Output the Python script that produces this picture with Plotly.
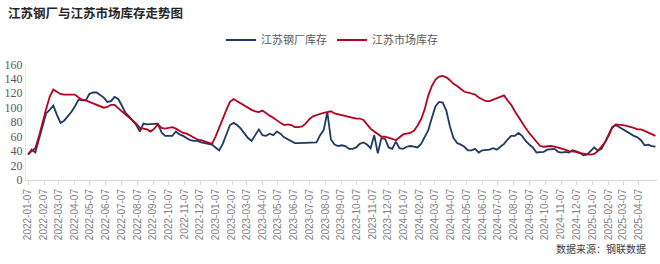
import pandas as pd
import plotly.graph_objects as go

start_date = "2022-01-07"
n_weeks = 175
dates = pd.date_range(start_date, periods=n_weeks, freq="7D")

series_names = ["江苏钢厂库存", "江苏市场库存"]

mill_stock = [
    35, 42, 38, 55, 75, 92, 97, 103, 90, 79,
    82, 88, 94, 102, 111, 110, 110, 119, 121, 121,
    118, 114, 108, 109, 115, 112, 103, 93, 88, 82,
    76, 67, 78, 77, 77, 77, 78, 66, 61, 61,
    61, 67, 63, 61, 58, 55, 54, 54, 52, 51,
    50, 49, 45, 41, 50, 63, 76, 79, 76, 71,
    64, 58, 54, 62, 70, 62, 61, 64, 62, 67,
    64, 59, 56, 53, 51, 51, 51, 52, 52, 52,
    52, 62, 69, 94, 56, 49, 47, 48, 47, 43,
    43, 45, 50, 52, 49, 44, 62, 37, 58, 57,
    45, 43, 53, 44, 43, 46, 47, 46, 45, 50,
    59, 69, 86, 102, 108, 107, 96, 74, 58, 51,
    49, 46, 41, 41, 43, 38, 41, 41, 42, 44,
    42, 46, 50, 56, 61, 61, 65, 61, 54, 49,
    45, 38, 38, 39, 42, 43, 43, 39, 38, 39,
    38, 41, 40, 38, 34, 35, 40, 45, 41, 43,
    52, 62, 73, 76, 73, 69, 66, 64, 61, 59,
    55, 48, 49, 47, 46,
]

market_stock = [
    36, 40, 44, 60, 80, 98, 115, 125, 122, 119,
    118, 118, 117, 118, 114, 111, 110, 108, 107, 104,
    102, 100, 101, 104, 104, 99, 95, 91, 87, 83,
    78, 72, 71, 70, 67, 71, 77, 72, 71, 72,
    73, 71, 68, 65, 64, 61, 58, 56, 55, 53,
    52, 50, 60, 73, 85, 97, 108, 112, 109, 106,
    103, 99, 97, 95, 94, 96, 92, 89, 86, 82,
    79, 76, 77, 76, 73, 73, 74, 78, 84, 88,
    90, 91, 93, 94, 95, 92, 91, 90, 88, 87,
    87, 85, 85, 83, 77, 71, 67, 63, 60, 60,
    59, 57, 55, 59, 63, 64, 65, 68, 75, 84,
    98, 117, 130, 139, 143, 144, 142, 138, 133, 130,
    126, 122, 121, 120, 118, 114, 111, 109, 109, 111,
    113, 116, 117, 110, 104, 95, 87, 80, 72, 65,
    59, 53, 47, 46, 47, 47, 46, 45, 44, 42,
    40, 40, 39, 37, 36, 35, 35, 36, 40, 46,
    52, 61, 72, 77, 77, 76, 75, 74, 72, 70,
    70, 68, 66, 63, 61,
]

tick_dates = pd.date_range("2022-01-01", "2025-04-01", freq="MS") + pd.Timedelta(days=6)
y_ticks = [0, 20, 40, 60, 80, 100, 120, 140, 160]

title_text = "江苏钢厂与江苏市场库存走势图"
source_text = "数据来源：钢联数据"

colors = ["#1f3864", "#b8001f"]

fig = go.Figure()
for name, vals, col in zip(series_names, [mill_stock, market_stock], colors):
    fig.add_trace(go.Scatter(
        x=dates, y=vals, mode="lines", name=name,
        line=dict(color=col, width=1.8),
    ))

fig.update_layout(
    width=660, height=264,
    margin=dict(l=26, r=3, t=62, b=84),
    paper_bgcolor="white", plot_bgcolor="white",
    font=dict(family="Noto Sans CJK SC", color="#595959"),
    title=dict(
        text=title_text, x=0.012, xanchor="left",
        y=1 - 14 / 264, yref="container", yanchor="middle",
        font=dict(family="Noto Sans CJK SC", size=12.5, color="#262626", weight="bold"),
    ),
    legend=dict(
        orientation="h", x=0.485, xanchor="center", y=1 - 40 / 264, yref="container",
        yanchor="middle", font=dict(size=11, color="#595959"),
        bgcolor="rgba(0,0,0,0)", itemwidth=30, tracegroupgap=0,
    ),
    showlegend=True,
)

fig.update_xaxes(
    type="date", range=["2022-01-03", "2025-05-12"],
    tickmode="array", tickvals=tick_dates, tickformat="%Y-%m-%d",
    tickangle=-90, tickfont=dict(family="Liberation Sans", size=10, color="#7f7f7f"),
    showgrid=False, showline=True, linecolor="#d9d9d9", linewidth=1,
    ticks="outside", ticklen=4, tickcolor="#d9d9d9", zeroline=False,
)
fig.update_yaxes(
    range=[0, 160], tickmode="array", tickvals=y_ticks,
    tickfont=dict(family="Liberation Serif", size=12, color="#595959"),
    showgrid=False, showline=True, linecolor="#e6e6e6", zeroline=False,
    ticks="",
)

fig.add_annotation(
    text=source_text, xref="paper", yref="paper", x=0.985, y=-70 / 118,
    xanchor="right", yanchor="middle", showarrow=False,
    font=dict(family="Noto Sans CJK SC", size=10, color="#404040"),
)

fig.write_html("out.html")
